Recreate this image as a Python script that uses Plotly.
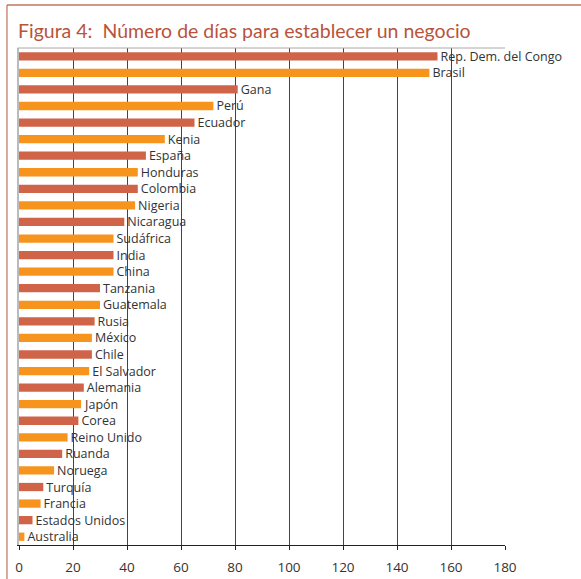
import plotly.graph_objects as go

paises = ["Rep. Dem. del Congo", "Brasil", "Gana", "Perú", "Ecuador", "Kenia", "España",
          "Honduras", "Colombia", "Nigeria", "Nicaragua", "Sudáfrica", "India", "China",
          "Tanzania", "Guatemala", "Rusia", "México", "Chile", "El Salvador", "Alemania",
          "Japón", "Corea", "Reino Unido", "Ruanda", "Noruega", "Turquía", "Francia",
          "Estados Unidos", "Australia"]
dias = [155, 152, 81, 72, 65, 54, 47, 44, 44, 43, 39, 35, 35, 35, 30, 30, 28, 27, 27, 26,
        24, 23, 22, 18, 16, 13, 9, 8, 5, 2]
colores_serie = ["#CF6448", "#F7941E"]
ticks = [0, 20, 40, 60, 80, 100, 120, 140, 160, 180]

colors = [colores_serie[i % 2] for i in range(len(paises))]

fig = go.Figure(go.Bar(
    x=dias, y=paises, orientation="h",
    marker=dict(color=colors, line=dict(width=0)),
    width=0.5,
    text=paises, textposition="outside", constraintext="none", cliponaxis=False,
    textfont=dict(family="Open Sans", size=12.5, color="#333333"),
    hoverinfo="x+y",
))

fig.update_layout(
    width=581, height=579,
    margin=dict(l=19, r=76, t=48, b=34, autoexpand=False),
    paper_bgcolor="white", plot_bgcolor="white",
    showlegend=False,
    bargap=0.5,
    title=dict(text="Figura 4:  Número de días para establecer un negocio",
               x=18/581, xanchor="left", y=1-31/579, yanchor="middle",
               font=dict(family="Lato", size=19.5, color="#B9533B")),
    xaxis=dict(range=[0, 180], tickvals=ticks, showgrid=True, gridcolor="#444444", gridwidth=1,
               zeroline=False, showline=True, linecolor="#222222", linewidth=1,
               ticks="outside", ticklen=4, tickcolor="#222222", ticklabelstandoff=6,
               automargin=False,
               tickfont=dict(family="Open Sans", size=13.5, color="#333333")),
    yaxis=dict(range=[29.5, -0.5], showticklabels=False, showgrid=False, zeroline=False,
               showline=True, linecolor="#BBBBBB", linewidth=2, ticks="", automargin=False),
    font=dict(family="Open Sans"),
)

# top plot border
fig.add_shape(type="line", xref="paper", yref="paper", x0=-0.003, x1=1, y0=1, y1=1,
              line=dict(color="#AAAAAA", width=1))
# outer frame
fig.add_shape(type="line", xref="paper", yref="paper", x0=-0.0247, x1=1.2, y0=1.0865, y1=1.0865,
              line=dict(color="#C27560", width=1.5))
fig.add_shape(type="line", xref="paper", yref="paper", x0=-0.0247, x1=-0.0247, y0=1.0865, y1=-0.08,
              line=dict(color="#B9533B", width=1))

fig.write_html("out.html", config={"displayModeBar": False},
               post_script="document.body.style.margin='0';")
